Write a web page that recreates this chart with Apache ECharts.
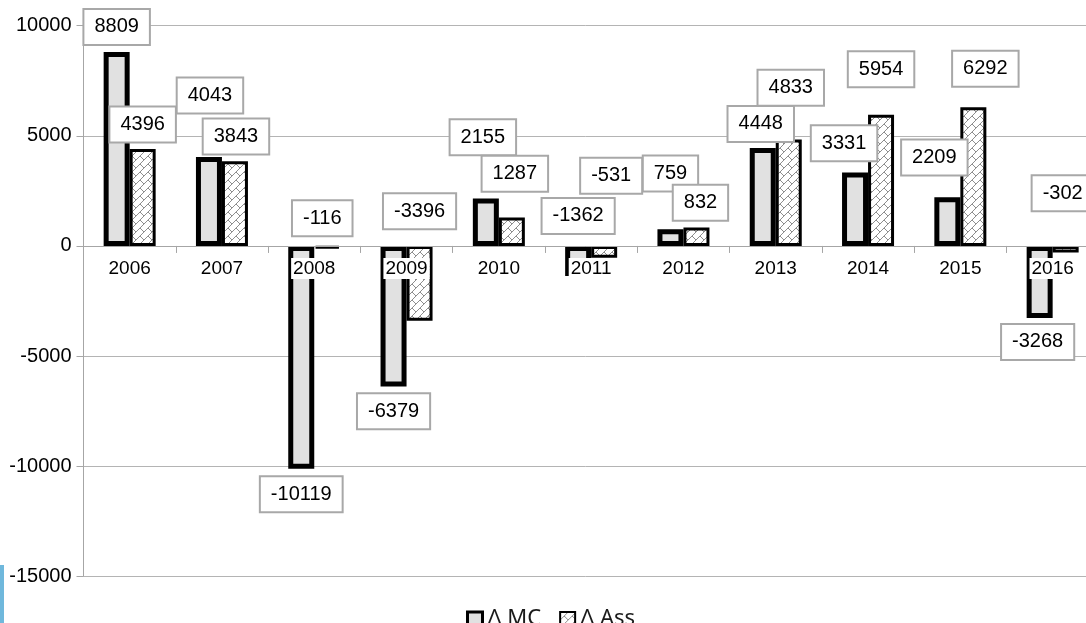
<!DOCTYPE html>
<html>
<head>
<meta charset="utf-8">
<title>Δ MC / Δ Ass 2006–2016</title>
<script src="https://cdn.jsdelivr.net/npm/echarts@6/dist/echarts.min.js"></script>
<style>
  html, body { margin: 0; padding: 0; background: #ffffff; }
  #chart { width: 1086px; height: 623px; }
</style>
</head>
<body>
<div id="chart"></div>
<script>
// Years on the category axis
const years = ['2006', '2007', '2008', '2009', '2010', '2011', '2012', '2013', '2014', '2015', '2016'];

// Yearly changes
const deltaMC  = [8809, 4043, -10119, -6379, 2155, -1362, 759, 4448, 3331, 2209, -3268];
const deltaAss = [4396, 3843, -116, -3396, 1287, -531, 832, 4833, 5954, 6292, -302];

// Value axis ticks
const yTicks = { min: -15000, max: 10000, interval: 5000 };

// Hand-placed label boxes: pixel offsets from each bar's centre
const mcLabelOffsets = [[0, -122], [1, -106], [0, 137], [0, 95], [-3, -85], [0, -45],
                        [0, -64], [-2, -73], [-11, -66], [-13, -64], [-2, 60]];
const assLabelOffsets = [[0, -73], [1, -67], [-5, -29], [0, -72], [3, -58], [7, -76],
                         [4, -34], [2, -105], [0, -111], [12, -108], [-3, -56]];

// Diagonal-brick hatch used to fill the Δ Ass bars
function brickPattern() {
  const c = document.createElement('canvas');
  c.width = 8; c.height = 8;
  const ctx = c.getContext('2d');
  ctx.fillStyle = '#ffffff';
  ctx.fillRect(0, 0, 8, 8);
  ctx.strokeStyle = '#8e8e8e';
  ctx.lineWidth = 1;
  ctx.beginPath();
  ctx.moveTo(0, 8); ctx.lineTo(8, 0);
  ctx.moveTo(-1, 1); ctx.lineTo(1, -1);
  ctx.moveTo(7, 9); ctx.lineTo(9, 7);
  ctx.moveTo(4, 4); ctx.lineTo(8, 8);
  ctx.moveTo(-4, 4); ctx.lineTo(0, 8);
  ctx.moveTo(4, -4); ctx.lineTo(8, 0);
  ctx.stroke();
  return c;
}
const hatch = { image: brickPattern(), repeat: 'repeat' };

const FONT = "'Liberation Sans', Arial, sans-serif";

const boxLabel = {
  show: true,
  position: 'inside',
  color: '#000',
  textBorderWidth: 0,
  fontFamily: FONT,
  fontSize: 20,
  lineHeight: 20,
  backgroundColor: '#ffffff',
  borderColor: '#a8a8a8',
  borderWidth: 2,
  padding: [7, 10]
};

const chart = echarts.init(document.getElementById('chart'), null, { renderer: 'canvas' });

chart.setOption({
  animation: false,
  backgroundColor: '#ffffff',
  textStyle: { fontFamily: FONT },
  // the plot area runs a little past the right edge of the page
  grid: { left: 83.5, right: -12.8, top: 25.7, bottom: 46.7, containLabel: false, outerBoundsMode: 'none' },
  legend: {
    left: 461,
    top: 603,
    icon: 'rect',
    itemWidth: 15,
    itemHeight: 14,
    itemGap: 18,
    textStyle: { fontFamily: "'Noto Sans', sans-serif", fontSize: 22, color: '#1a1a1a' },
    data: [
      { name: 'Δ MC', itemStyle: { color: '#e1e1e1', borderColor: '#000', borderWidth: 3 } },
      { name: 'Δ Ass', itemStyle: { color: hatch, borderColor: '#000', borderWidth: 2 } }
    ]
  },
  xAxis: {
    type: 'category',
    data: years,
    z: 3,
    position: 'bottom',
    axisLine: { onZero: false, lineStyle: { color: '#a6a6a6', width: 1 } },
    axisTick: { show: true, length: 7, lineStyle: { color: '#a6a6a6' } },
    axisLabel: {
      color: '#000',
      fontFamily: FONT,
      fontSize: 19,
      margin: 12,
      backgroundColor: '#ffffff',
      padding: [1, 2]
    },
    splitLine: { show: false }
  },
  yAxis: {
    type: 'value',
    min: yTicks.min,
    max: yTicks.max,
    interval: yTicks.interval,
    axisLine: { show: true, lineStyle: { color: '#a6a6a6', width: 1 } },
    axisTick: { show: true, length: 7, lineStyle: { color: '#a6a6a6' } },
    axisLabel: { color: '#000', fontFamily: FONT, fontSize: 20, margin: 12, formatter: v => String(v) },
    splitLine: { show: true, lineStyle: { color: '#b4b4b4', width: 1 } }
  },
  series: [
    {
      name: 'Δ MC',
      type: 'bar',
      barWidth: 26,
      barGap: '0%',
      itemStyle: { color: '#e1e1e1', borderColor: '#000', borderWidth: 5 },
      label: boxLabel,
      data: deltaMC.map((v, i) => ({ value: v, label: { offset: mcLabelOffsets[i] } }))
    },
    {
      name: 'Δ Ass',
      type: 'bar',
      barWidth: 26,
      barGap: '0%',
      itemStyle: { color: hatch, borderColor: '#000', borderWidth: 3 },
      label: boxLabel,
      data: deltaAss.map((v, i) => ({ value: v, label: { offset: assLabelOffsets[i] } }))
    }
  ],
  graphic: [
    { type: 'rect', left: 0, top: 565, shape: { width: 4, height: 58 }, style: { fill: '#6fb8dc' }, silent: true }
  ]
});

// Lift the category axis (line, ticks and year labels) up to the zero line
const zeroY = chart.convertToPixel({ yAxisIndex: 0 }, 0);
const floorY = chart.convertToPixel({ yAxisIndex: 0 }, yTicks.min);
chart.setOption({ xAxis: { offset: zeroY - floorY } });
</script>
</body>
</html>
